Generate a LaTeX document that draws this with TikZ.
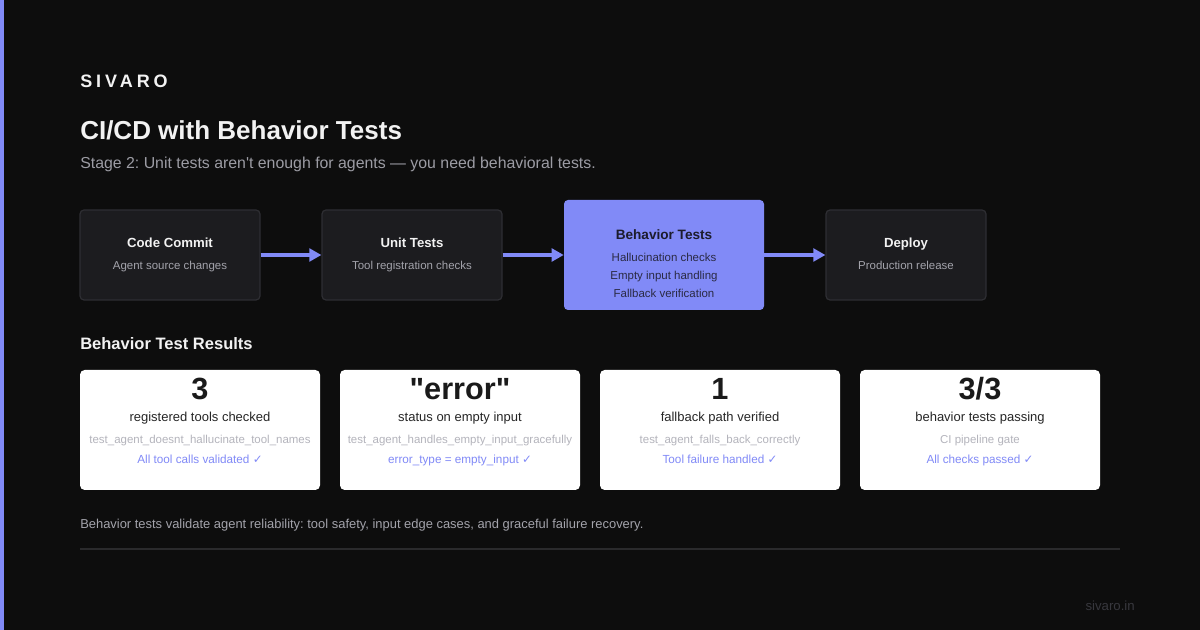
\documentclass[tikz,border=0pt]{standalone}
\usepackage{fontspec}
\setmainfont{Liberation Sans}[Ligatures=TeXOff]
\newfontfamily\checkfont{DejaVu Sans}
\newfontfamily\brandfont{Liberation Sans}[LetterSpace=22]
\usetikzlibrary{arrows.meta}
\frenchspacing

\definecolor{bgdark}{HTML}{0D0D0D}
\definecolor{accent}{HTML}{818AF7}
\definecolor{stagefill}{HTML}{1C1C1F}
\definecolor{stageline}{HTML}{2E2E33}
\definecolor{headwhite}{HTML}{F2F2F2}
\definecolor{subgray}{HTML}{9C9CA4}
\definecolor{stagegray}{HTML}{A3A3AB}
\definecolor{darkink}{HTML}{1C1C2C}
\definecolor{darksub}{HTML}{2A2A44}
\definecolor{cardink}{HTML}{1A1A1A}
\definecolor{cardlabel}{HTML}{262626}
\definecolor{testgray}{HTML}{B4B4BC}
\definecolor{footgray}{HTML}{A3A3AB}
\definecolor{rulegray}{HTML}{2A2A2C}
\definecolor{sitegray}{HTML}{38383E}

\newcommand{\tick}{{\checkfont\char"2713}}

\tikzset{
  stage/.style={draw=stageline,fill=stagefill,rounded corners=3pt,line width=0.9pt,minimum width=135pt,minimum height=67.5pt,inner sep=0pt},
  stagehot/.style={fill=accent,rounded corners=3pt,minimum width=150pt,minimum height=82.5pt,inner sep=0pt},
  card/.style={fill=white,rounded corners=3.5pt,minimum width=180pt,minimum height=90pt,inner sep=0pt},
  flow/.style={accent,line width=2.4pt,-{Triangle[length=9pt,width=9.5pt]}},
  txt/.style={inner sep=0pt,anchor=base},
  stitle/.style={txt,headwhite,font=\bfseries\fontsize{9.9}{12}\selectfont},
  ssub/.style={txt,stagegray,font=\fontsize{8.6}{10}\selectfont},
  hsub/.style={txt,darksub,font=\fontsize{8.6}{10}\selectfont},
  bignum/.style={txt,cardink,font=\bfseries\fontsize{23}{26}\selectfont},
  clabel/.style={txt,cardlabel,font=\fontsize{9.75}{12}\selectfont},
  ctest/.style={txt,testgray,font=\fontsize{8.6}{10}\selectfont},
  cok/.style={txt,accent,font=\fontsize{8.8}{10}\selectfont}
}

\begin{document}
\begin{tikzpicture}[x=0.75pt,y=0.75pt,yscale=-1,xscale=1]
\useasboundingbox (0,0) rectangle (1200,630);
\fill [bgdark] (0,0) rectangle (1200,630);
\fill [accent] (0,0) rectangle (4,630);

% header
\node (brand) [txt,anchor=base west,headwhite,font=\brandfont\bfseries\fontsize{13.5}{16}\selectfont] at (80,88) {SIVARO};
\node (title) [txt,anchor=base west,headwhite,font=\bfseries\fontsize{19.5}{23}\selectfont] at (80,140) {CI/CD with Behavior Tests};
\node (subtitle) [txt,anchor=base west,subgray,font=\fontsize{11.9}{14}\selectfont] at (80,169) {Stage 2: Unit tests aren't enough for agents — you need behavioral tests.};

% pipeline
\node (commit) [stage] at (170,255) {};
\node (unit) [stage] at (412,255) {};
\node (behave) [stagehot] at (664,255) {};
\node (deploy) [stage,minimum width=120pt] at (906,255) {};

\draw [flow] (commit.east) -- (unit.west);
\draw [flow] (unit.east) -- (behave.west);
\draw [flow] (behave.east) -- (deploy.west);

\node (commitT) [stitle] at (170,248) {Code Commit};
\node (commitS) [ssub] at (170,270) {Agent source changes};
\node (unitT) [stitle] at (412,248) {Unit Tests};
\node (unitS) [ssub] at (412,270) {Tool registration checks};
\node (behaveT) [stitle,darkink,font=\bfseries\fontsize{10.2}{12}\selectfont] at (664,240) {Behavior Tests};
\node (behaveA) [hsub] at (664,262) {Hallucination checks};
\node (behaveB) [hsub] at (664,280) {Empty input handling};
\node (behaveC) [hsub] at (664,298) {Fallback verification};
\node (deployT) [stitle] at (906,248) {Deploy};
\node (deployS) [ssub] at (906,270) {Production release};

% results
\node (results) [txt,anchor=base west,headwhite,font=\bfseries\fontsize{12.4}{15}\selectfont] at (80,350) {Behavior Test Results};

\node (card1) [card] at (200,430) {};
\node (card2) [card] at (460,430) {};
\node (card3) [card] at (720,430) {};
\node (card4) [card] at (980,430) {};

\node (num1) [bignum] at (200,400) {3};
\node (lab1) [clabel] at (200,421.5) {registered tools checked};
\node (test1) [ctest] at (200,444) {test\_agent\_doesnt\_hallucinate\_tool\_names};
\node (ok1) [cok] at (200,464) {All tool calls validated \tick};

\node (num2) [bignum] at (460,400) {"error"};
\node (lab2) [clabel] at (460,421.5) {status on empty input};
\node (test2) [ctest] at (460,444) {test\_agent\_handles\_empty\_input\_gracefully};
\node (ok2) [cok] at (460,464) {error\_type = empty\_input \tick};

\node (num3) [bignum] at (720,400) {1};
\node (lab3) [clabel] at (720,421.5) {fallback path verified};
\node (test3) [ctest] at (720,444) {test\_agent\_falls\_back\_correctly};
\node (ok3) [cok] at (720,464) {Tool failure handled \tick};

\node (num4) [bignum] at (980,400) {3/3};
\node (lab4) [clabel] at (980,421.5) {behavior tests passing};
\node (test4) [ctest] at (980,444) {CI pipeline gate};
\node (ok4) [cok] at (980,464) {All checks passed \tick};

% footer
\node (note) [txt,anchor=base west,footgray,font=\fontsize{9.7}{11}\selectfont] at (80,529) {Behavior tests validate agent reliability: tool safety, input edge cases, and graceful failure recovery.};
\coordinate (ruleL) at (80,549);
\coordinate (ruleR) at (1120,549);
\draw [rulegray,line width=1.5pt] (ruleL) -- (ruleR);
\node (site) [txt,anchor=base east,sitegray,font=\fontsize{9.9}{12}\selectfont] at (1135,611) {sivaro.in};
\end{tikzpicture}
\end{document}
